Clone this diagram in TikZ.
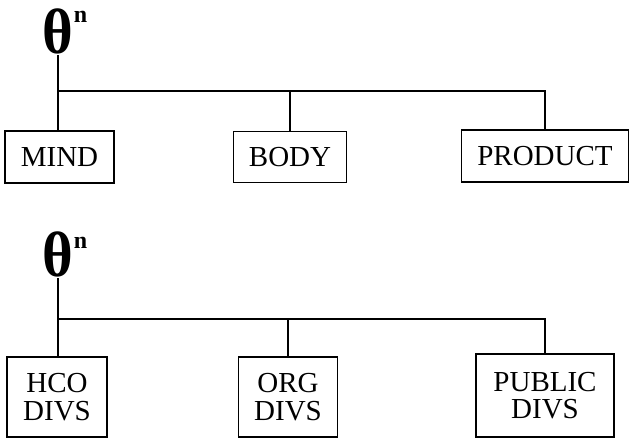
\documentclass[tikz,border=0pt]{standalone}
\usepackage{fontspec}
\setmainfont{Liberation Serif}

\begin{document}
\begin{tikzpicture}[x=1pt, y=-1pt, line width=1.8pt,
    divbox/.style={rectangle, draw, inner sep=0pt, font=\fontsize{29}{27}\selectfont},
    theta/.style={inner sep=0pt, font=\bfseries\fontsize{64}{64}\selectfont},
    power/.style={inner sep=0pt, anchor=base west, font=\bfseries\fontsize{24}{24}\selectfont}]
  \useasboundingbox (0,0) rectangle (630,439);

  % upper tree
  \node (T1) [theta] at (58,31.5) {\scalebox{0.92}[1]{θ}};
  \node (N1) [power] at (73,23) {n};
  \node (MIND) [divbox, minimum width=109pt, minimum height=52pt] at (59.5,157) {MIND};
  \node (BODY) [divbox, minimum width=113pt, minimum height=51pt] at (290,157) {BODY};
  \node (PRODUCT) [divbox, minimum width=167pt, minimum height=52pt] at (545,156) {PRODUCT};
  \coordinate (bus1) at (58,91);

  \draw (T1.south) -- (T1.south |- MIND.north);
  \draw (bus1) -| (BODY.north);
  \draw (bus1) -| (PRODUCT.north);

  % lower tree
  \node (T2) [theta] at (58,254.5) {\scalebox{0.92}[1]{θ}};
  \node (N2) [power] at (73,248) {n};
  \node (HCO) [divbox, minimum width=100pt, minimum height=80pt] at (57,397) {
    \raisebox{-4pt}[\height][\depth]{\begin{tabular}{c}
      HCO \\
      DIVS
    \end{tabular}}
  };
  \node (ORG) [divbox, minimum width=99pt, minimum height=80pt] at (288,397) {
    \raisebox{-4pt}[\height][\depth]{\begin{tabular}{c}
      ORG \\
      DIVS
    \end{tabular}}
  };
  \node (PUBLIC) [divbox, minimum width=138pt, minimum height=83pt] at (545,395.5) {
    \raisebox{-4pt}[\height][\depth]{\begin{tabular}{c}
      PUBLIC \\
      DIVS
    \end{tabular}}
  };
  \coordinate (bus2) at (58,319);

  \draw (T2.south) -- (T2.south |- HCO.north);
  \draw (bus2) -| (ORG.north);
  \draw (bus2) -| (PUBLIC.north);
\end{tikzpicture}
\end{document}
